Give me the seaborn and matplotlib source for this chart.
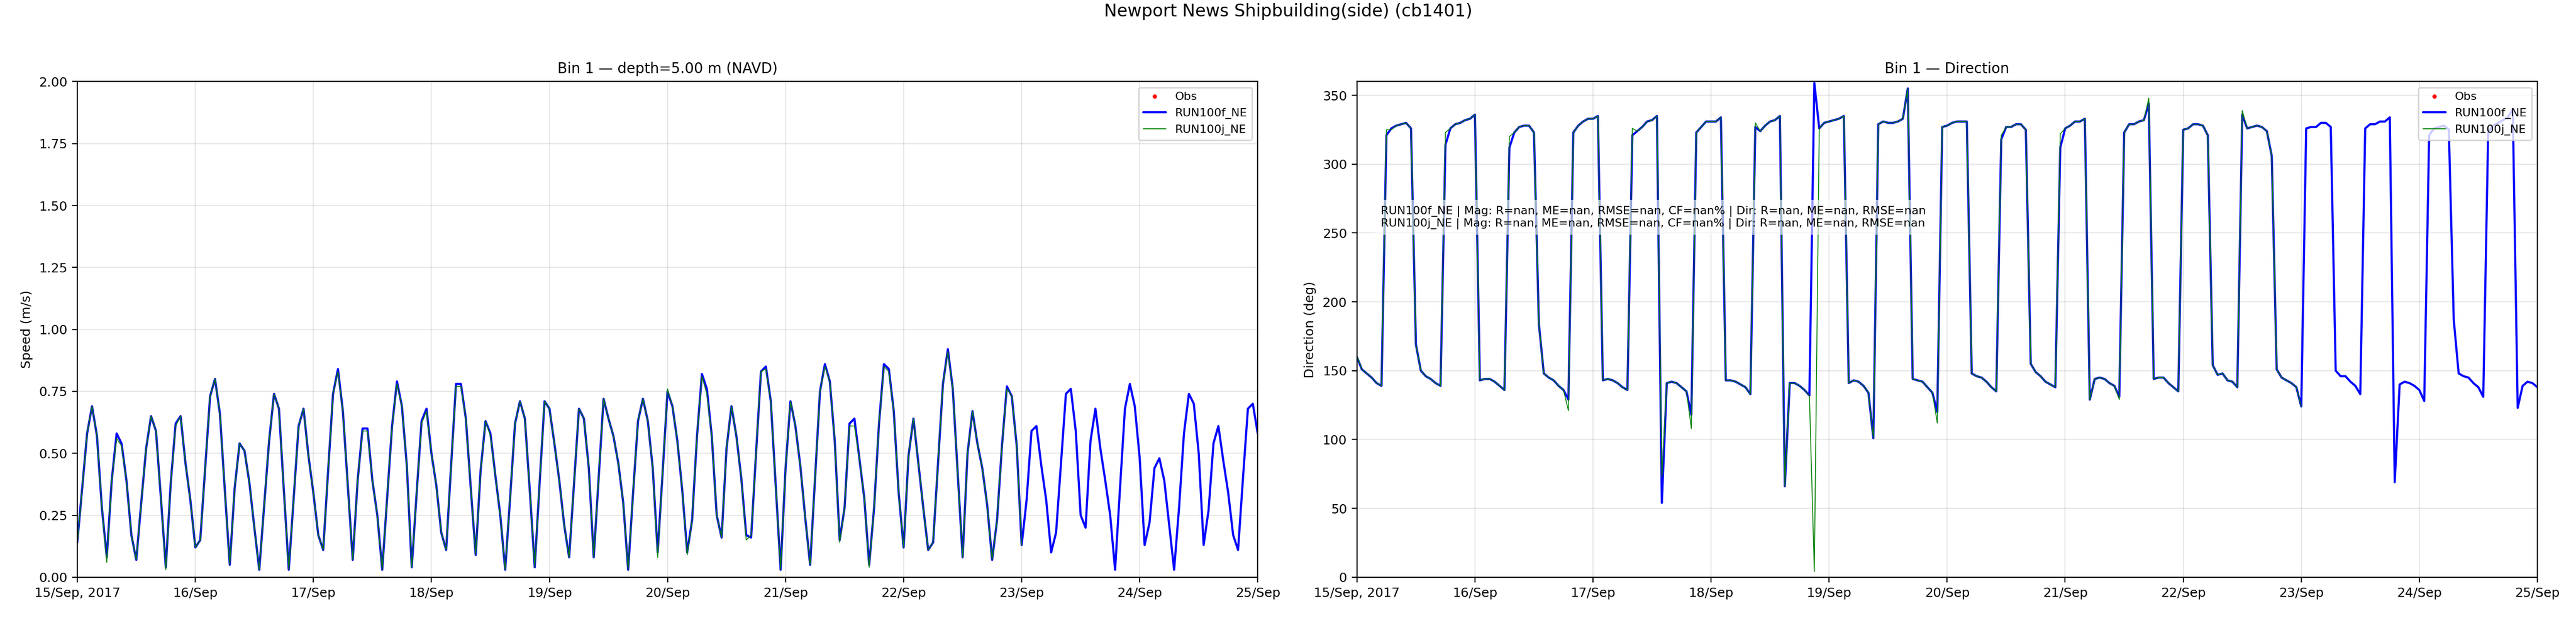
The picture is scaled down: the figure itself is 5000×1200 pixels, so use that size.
import numpy as np
import pandas as pd
import matplotlib
matplotlib.use("Agg")
import matplotlib.pyplot as plt
import seaborn as sns

# hourly model output, bin 1
start_time = "2017-09-15 00:00"

speed_f = [0.14, 0.36, 0.58, 0.69, 0.57, 0.28, 0.08, 0.39, 0.58, 0.54, 0.39, 0.17,
           0.07, 0.30, 0.52, 0.65, 0.59, 0.32, 0.04, 0.38, 0.62, 0.65, 0.46, 0.31,
           0.12, 0.15, 0.44, 0.73, 0.80, 0.66, 0.35, 0.05, 0.36, 0.54, 0.51, 0.38,
           0.20, 0.03, 0.29, 0.55, 0.74, 0.68, 0.35, 0.03, 0.32, 0.61, 0.68, 0.49,
           0.34, 0.17, 0.11, 0.43, 0.74, 0.84, 0.67, 0.37, 0.07, 0.39, 0.60, 0.60,
           0.39, 0.25, 0.03, 0.32, 0.61, 0.79, 0.69, 0.45, 0.04, 0.34, 0.63, 0.68,
           0.50, 0.37, 0.18, 0.11, 0.45, 0.78, 0.78, 0.64, 0.36, 0.09, 0.43, 0.63,
           0.58, 0.41, 0.25, 0.03, 0.32, 0.62, 0.71, 0.64, 0.35, 0.04, 0.38, 0.71,
           0.68, 0.54, 0.39, 0.21, 0.08, 0.38, 0.68, 0.64, 0.44, 0.08, 0.40, 0.72,
           0.64, 0.57, 0.46, 0.30, 0.03, 0.34, 0.63, 0.72, 0.63, 0.44, 0.10, 0.42,
           0.75, 0.69, 0.55, 0.35, 0.10, 0.23, 0.57, 0.82, 0.76, 0.57, 0.25, 0.16,
           0.52, 0.69, 0.57, 0.40, 0.17, 0.16, 0.50, 0.83, 0.85, 0.71, 0.37, 0.03,
           0.44, 0.71, 0.61, 0.45, 0.24, 0.05, 0.40, 0.75, 0.86, 0.79, 0.55, 0.15,
           0.28, 0.62, 0.64, 0.48, 0.32, 0.05, 0.28, 0.62, 0.86, 0.84, 0.67, 0.34,
           0.12, 0.49, 0.64, 0.46, 0.28, 0.11, 0.14, 0.46, 0.78, 0.92, 0.76, 0.42,
           0.08, 0.50, 0.67, 0.54, 0.44, 0.29, 0.07, 0.23, 0.53, 0.77, 0.73, 0.53,
           0.13, 0.31, 0.59, 0.61, 0.45, 0.31, 0.10, 0.18, 0.46, 0.74, 0.76, 0.59,
           0.25, 0.20, 0.55, 0.68, 0.52, 0.39, 0.25, 0.03, 0.36, 0.68, 0.78, 0.69,
           0.48, 0.13, 0.22, 0.44, 0.48, 0.39, 0.21, 0.03, 0.28, 0.58, 0.74, 0.70,
           0.50, 0.13, 0.27, 0.54, 0.61, 0.47, 0.34, 0.17, 0.11, 0.40, 0.68, 0.70,
           0.58]

speed_j = [0.13, 0.36, 0.58, 0.69, 0.57, 0.28, 0.06, 0.39, 0.56, 0.53, 0.39, 0.17,
           0.07, 0.30, 0.52, 0.65, 0.59, 0.32, 0.03, 0.38, 0.61, 0.65, 0.46, 0.31,
           0.12, 0.15, 0.44, 0.73, 0.80, 0.66, 0.35, 0.05, 0.36, 0.54, 0.51, 0.38,
           0.20, 0.03, 0.29, 0.55, 0.74, 0.68, 0.35, 0.03, 0.32, 0.61, 0.68, 0.49,
           0.34, 0.17, 0.11, 0.43, 0.74, 0.83, 0.67, 0.37, 0.07, 0.39, 0.59, 0.59,
           0.39, 0.25, 0.03, 0.32, 0.61, 0.78, 0.69, 0.45, 0.04, 0.34, 0.62, 0.67,
           0.50, 0.37, 0.18, 0.11, 0.45, 0.77, 0.77, 0.64, 0.36, 0.09, 0.43, 0.63,
           0.57, 0.41, 0.25, 0.03, 0.32, 0.62, 0.71, 0.64, 0.35, 0.04, 0.38, 0.71,
           0.68, 0.54, 0.39, 0.21, 0.08, 0.38, 0.68, 0.64, 0.44, 0.08, 0.40, 0.72,
           0.64, 0.57, 0.46, 0.30, 0.03, 0.34, 0.63, 0.72, 0.63, 0.44, 0.08, 0.42,
           0.76, 0.69, 0.55, 0.35, 0.09, 0.23, 0.57, 0.81, 0.74, 0.57, 0.25, 0.16,
           0.52, 0.69, 0.57, 0.40, 0.15, 0.17, 0.50, 0.83, 0.84, 0.71, 0.37, 0.03,
           0.44, 0.71, 0.61, 0.45, 0.24, 0.05, 0.40, 0.75, 0.85, 0.79, 0.55, 0.14,
           0.28, 0.61, 0.61, 0.48, 0.32, 0.04, 0.28, 0.62, 0.85, 0.83, 0.67, 0.34,
           0.12, 0.49, 0.64, 0.46, 0.28, 0.11, 0.14, 0.46, 0.78, 0.91, 0.76, 0.42,
           0.08, 0.50, 0.67, 0.54, 0.44, 0.29, 0.07, 0.23, 0.53, 0.76, 0.73, 0.53,
           0.13]

dir_f = [160, 151, 148, 145, 141, 139, 321, 326, 328, 329, 330, 326,
         169, 150, 146, 144, 141, 139, 314, 326, 329, 330, 332, 333,
         336, 143, 144, 144, 142, 139, 136, 312, 323, 327, 328, 328,
         323, 184, 148, 145, 143, 139, 136, 129, 323, 328, 331, 333,
         333, 335, 143, 144, 143, 141, 138, 136, 321, 324, 327, 331,
         332, 335, 54, 141, 142, 141, 138, 135, 118, 323, 327, 331,
         331, 331, 334, 143, 143, 142, 140, 138, 133, 327, 324, 328,
         331, 332, 335, 66, 141, 141, 139, 136, 132, 359, 326, 330,
         331, 332, 333, 335, 141, 143, 142, 139, 134, 101, 329, 331,
         330, 330, 331, 333, 355, 144, 143, 142, 138, 134, 120, 327,
         328, 330, 331, 331, 331, 148, 146, 145, 142, 138, 135, 318,
         327, 327, 329, 329, 325, 155, 149, 146, 142, 140, 138, 312,
         326, 328, 331, 331, 333, 129, 144, 145, 144, 141, 139, 131,
         323, 329, 329, 331, 332, 344, 144, 145, 145, 141, 138, 135,
         325, 326, 329, 329, 328, 321, 154, 147, 148, 143, 142, 138,
         336, 326, 327, 328, 327, 324, 306, 151, 145, 143, 141, 138,
         124, 326, 327, 327, 330, 330, 327, 150, 146, 146, 142, 139,
         133, 326, 329, 329, 331, 331, 334, 69, 140, 142, 141, 139,
         136, 128, 321, 326, 327, 328, 325, 187, 148, 146, 145, 141,
         138, 131, 323, 328, 330, 332, 334, 340, 123, 139, 142, 141,
         138]

dir_j = [161, 151, 148, 145, 141, 139, 325, 325, 328, 329, 330, 326,
         169, 150, 146, 144, 141, 139, 323, 326, 329, 330, 332, 333,
         336, 143, 144, 144, 142, 139, 136, 320, 323, 327, 328, 328,
         323, 184, 148, 145, 143, 139, 136, 121, 323, 328, 331, 333,
         333, 335, 143, 144, 143, 141, 138, 136, 326, 324, 327, 331,
         332, 335, 73, 141, 142, 141, 138, 135, 108, 323, 327, 331,
         331, 331, 334, 143, 143, 142, 140, 138, 133, 330, 324, 328,
         331, 332, 335, 66, 141, 141, 139, 136, 132, 4, 326, 330,
         331, 332, 333, 335, 141, 143, 142, 139, 134, 101, 329, 331,
         330, 330, 331, 333, 355, 144, 143, 142, 138, 134, 112, 327,
         328, 330, 331, 331, 331, 148, 146, 145, 142, 138, 135, 321,
         327, 327, 329, 329, 325, 155, 149, 146, 142, 140, 138, 322,
         326, 328, 331, 331, 333, 129, 144, 145, 144, 141, 139, 129,
         323, 329, 329, 331, 332, 348, 144, 145, 145, 141, 138, 135,
         325, 326, 329, 329, 328, 321, 154, 147, 148, 143, 142, 138,
         339, 326, 327, 328, 327, 324, 306, 151, 145, 143, 141, 138,
         124]

# no observations in this window
obs_speed = []
obs_dir = []

tick_days = ["2017-09-15", "2017-09-16", "2017-09-17", "2017-09-18", "2017-09-19", "2017-09-20",
             "2017-09-21", "2017-09-22", "2017-09-23", "2017-09-24", "2017-09-25"]
tick_labels = ["15/Sep, 2017", "16/Sep", "17/Sep", "18/Sep", "19/Sep", "20/Sep",
               "21/Sep", "22/Sep", "23/Sep", "24/Sep", "25/Sep"]

stats_text = ("RUN100f_NE | Mag: R=nan, ME=nan, RMSE=nan, CF=nan% | Dir: R=nan, ME=nan, RMSE=nan\n"
              "RUN100j_NE | Mag: R=nan, ME=nan, RMSE=nan, CF=nan% | Dir: R=nan, ME=nan, RMSE=nan")

# build frames
times_f = pd.date_range(start_time, periods=len(speed_f), freq="h")
times_j = times_f[:len(speed_j)]
df_f = pd.DataFrame({"time": times_f, "speed": speed_f, "dir": dir_f})
df_j = pd.DataFrame({"time": times_j, "speed": speed_j, "dir": dir_j})

sns.set_style("ticks", {"axes.edgecolor": "black", "text.color": "black",
                        "xtick.color": "black", "ytick.color": "black",
                        "axes.labelcolor": "black"})
plt.rcParams["font.family"] = ["DejaVu Sans"]

fig, (ax1, ax2) = plt.subplots(1, 2, figsize=(25, 6), dpi=200)
fig.subplots_adjust(left=0.030, right=0.985, bottom=0.066, top=0.868, wspace=0.084)

panels = [(ax1, "speed", obs_speed, "Bin 1 \u2014 depth=5.00 m (NAVD)", "Speed (m/s)", (0, 2)),
          (ax2, "dir", obs_dir, "Bin 1 \u2014 Direction", "Direction (deg)", (0, 360))]

for ax, col, obs, title, ylab, ylim in panels:
    sns.lineplot(data=df_f, x="time", y=col, color="#0000ff", lw=1.5, label="RUN100f_NE", ax=ax)
    sns.lineplot(data=df_j, x="time", y=col, color="#008000", lw=0.6, label="RUN100j_NE", ax=ax)
    ax.plot(pd.to_datetime(pd.Series(obs, dtype="float64").index.astype("int64")), obs,
            ".", color="red", ms=4, label="Obs")
    ax.set_title(title, fontsize=10)
    ax.set_ylabel(ylab, fontsize=9)
    ax.set_xlabel("")
    ax.set_ylim(*ylim)
    ax.set_xlim(pd.Timestamp(tick_days[0]), pd.Timestamp(tick_days[-1]))
    ax.set_xticks(pd.to_datetime(tick_days))
    ax.set_xticklabels(tick_labels)
    ax.tick_params(labelsize=9)
    ax.grid(True, color="#b0b0b0", alpha=0.3, lw=0.8)
    handles, labels = ax.get_legend_handles_labels()
    order = [labels.index(n) for n in ["Obs", "RUN100f_NE", "RUN100j_NE"]]
    ax.legend([handles[i] for i in order], [labels[i] for i in order],
              loc="upper right", fontsize=8)

ax1.set_yticks(np.arange(0, 2.01, 0.25))
ax2.set_yticks(np.arange(0, 351, 50))

ax2.text(0.02, 0.75, stats_text, transform=ax2.transAxes, va="top", fontsize=8,
         bbox=dict(facecolor="white", alpha=0.6, edgecolor="none"))

fig.suptitle("Newport News Shipbuilding(side) (cb1401)", fontsize=12, y=0.995)

fig.savefig("out.png", dpi=200)
